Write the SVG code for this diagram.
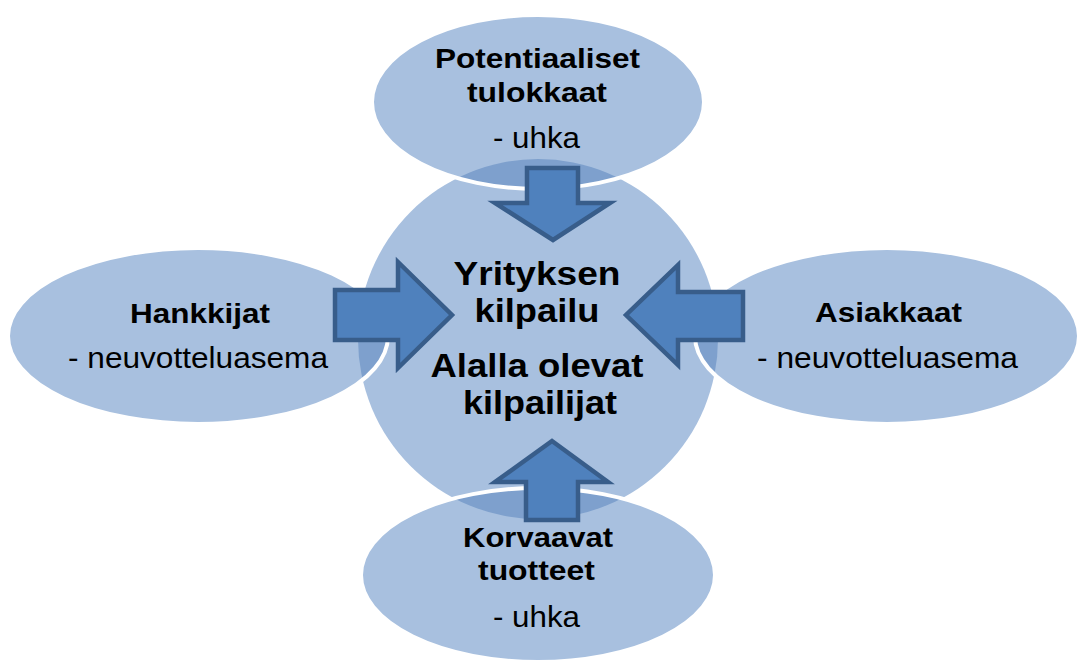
<svg xmlns="http://www.w3.org/2000/svg" width="1082" height="663" viewBox="0 0 1082 663">
  <style>
    .bubble { fill: #a8c0df; }
    .overlap { fill: #7ea0cd; }
    .rim { fill: none; stroke: #ffffff; stroke-width: 4; }
    .arrow { fill: #4f81bd; stroke: #385d8a; stroke-width: 4.5; stroke-linejoin: miter; }
    text { font-family: "Liberation Sans", Arial, sans-serif; fill: #000000; text-anchor: middle; }
    .title { font-weight: bold; font-size: 34px; }
    .head { font-weight: bold; font-size: 28px; }
    .sub { font-size: 30px; }
  </style>
  <defs>
    <clipPath id="hubClip">
      <circle cx="538" cy="339" r="180"/>
    </clipPath>
    <ellipse id="shapeTop" cx="538" cy="102" rx="166" ry="87"/>
    <ellipse id="shapeBottom" cx="538" cy="575" rx="177" ry="87"/>
    <ellipse id="shapeLeft" cx="198" cy="336" rx="190" ry="88"/>
    <ellipse id="shapeRight" cx="887" cy="336" rx="192" ry="88"/>
  </defs>

  <!-- central hub -->
  <g id="hub">
    <circle class="bubble" cx="538" cy="339" r="180"/>
  </g>

  <!-- outer forces -->
  <g id="entrants">
    <use href="#shapeTop" class="bubble"/>
    <use href="#shapeTop" class="overlap" clip-path="url(#hubClip)"/>
    <use href="#shapeTop" class="rim"/>
  </g>
  <g id="substitutes">
    <use href="#shapeBottom" class="bubble"/>
    <use href="#shapeBottom" class="overlap" clip-path="url(#hubClip)"/>
    <use href="#shapeBottom" class="rim"/>
  </g>
  <g id="suppliers">
    <use href="#shapeLeft" class="bubble"/>
    <use href="#shapeLeft" class="overlap" clip-path="url(#hubClip)"/>
    <use href="#shapeLeft" class="rim"/>
  </g>
  <g id="buyers">
    <use href="#shapeRight" class="bubble"/>
    <use href="#shapeRight" class="overlap" clip-path="url(#hubClip)"/>
    <use href="#shapeRight" class="rim"/>
  </g>

  <!-- block arrows pointing at the hub -->
  <g id="connectors">
    <polygon class="arrow" points="527,168 578,168 578,203 610,203 553,240 495,203 527,203"/>
    <polygon class="arrow" points="552,441 608,482 578,482 578,520 526,520 526,482 495,482"/>
    <polygon class="arrow" points="335,290 398,290 398,262 452,315 398,368 398,340 335,340"/>
    <polygon class="arrow" points="743,292 678,292 678,265 626,315 678,365 678,340 743,340"/>
  </g>

  <!-- labels -->
  <g id="hub-label">
    <text class="title" x="537" y="285" textLength="167" lengthAdjust="spacingAndGlyphs">Yrityksen</text>
    <text class="title" x="537" y="322" textLength="125" lengthAdjust="spacingAndGlyphs">kilpailu</text>
    <text class="title" x="537" y="377" textLength="213" lengthAdjust="spacingAndGlyphs">Alalla olevat</text>
    <text class="title" x="540" y="414" textLength="154" lengthAdjust="spacingAndGlyphs">kilpailijat</text>
  </g>
  <g id="entrants-label">
    <text class="head" x="537.5" y="68" textLength="205" lengthAdjust="spacingAndGlyphs">Potentiaaliset</text>
    <text class="head" x="537" y="102" textLength="140" lengthAdjust="spacingAndGlyphs">tulokkaat</text>
    <text class="sub" x="536.5" y="148" textLength="87" lengthAdjust="spacingAndGlyphs">- uhka</text>
  </g>
  <g id="substitutes-label">
    <text class="head" x="538" y="547" textLength="150" lengthAdjust="spacingAndGlyphs">Korvaavat</text>
    <text class="head" x="536.5" y="580" textLength="117" lengthAdjust="spacingAndGlyphs">tuotteet</text>
    <text class="sub" x="536.5" y="627" textLength="87" lengthAdjust="spacingAndGlyphs">- uhka</text>
  </g>
  <g id="suppliers-label">
    <text class="head" x="200" y="323" textLength="140" lengthAdjust="spacingAndGlyphs">Hankkijat</text>
    <text class="sub" x="198" y="368" textLength="260" lengthAdjust="spacingAndGlyphs">- neuvotteluasema</text>
  </g>
  <g id="buyers-label">
    <text class="head" x="888.5" y="322" textLength="147" lengthAdjust="spacingAndGlyphs">Asiakkaat</text>
    <text class="sub" x="887.5" y="368" textLength="261" lengthAdjust="spacingAndGlyphs">- neuvotteluasema</text>
  </g>
</svg>
